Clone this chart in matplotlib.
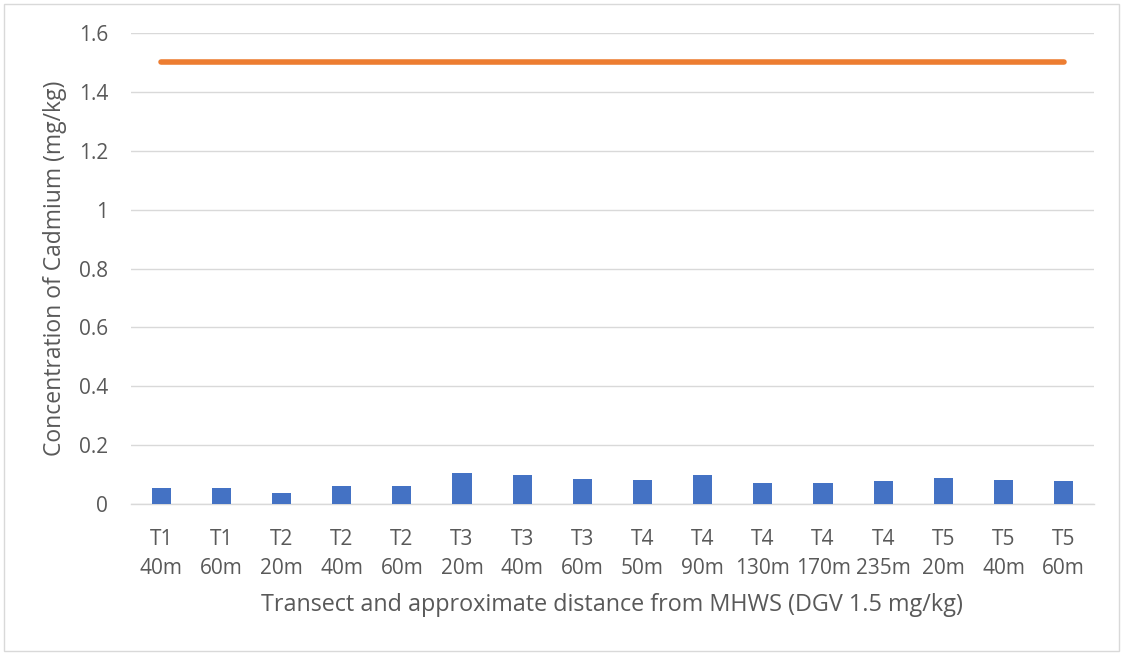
import matplotlib
matplotlib.use("Agg")
import matplotlib.pyplot as plt
from matplotlib.patches import Rectangle

categories = ["T1\n40m", "T1\n60m", "T2\n20m", "T2\n40m", "T2\n60m", "T3\n20m", "T3\n40m",
              "T3\n60m", "T4\n50m", "T4\n90m", "T4\n130m", "T4\n170m", "T4\n235m",
              "T5\n20m", "T5\n40m", "T5\n60m"]
cadmium = [0.055, 0.055, 0.038, 0.062, 0.060, 0.105, 0.097, 0.085,
           0.082, 0.100, 0.071, 0.071, 0.078, 0.090, 0.080, 0.078]
dgv = [1.5] * len(categories)
y_ticks = [0, 0.2, 0.4, 0.6, 0.8, 1, 1.2, 1.4, 1.6]
y_tick_labels = ["0", "0.2", "0.4", "0.6", "0.8", "1", "1.2", "1.4", "1.6"]

plt.rcParams["font.family"] = ["Open Sans", "DejaVu Sans"]
text_color = "#595959"
grid_color = "#d9d9d9"

fig = plt.figure(figsize=(11.23, 6.55), dpi=100)
fig.patches.append(Rectangle((0.004, 0.006), 0.992, 0.988, transform=fig.transFigure,
                             fill=False, edgecolor="#d9d9d9", linewidth=1))
ax = fig.add_axes([0.1167, 0.2305, 0.8573, 0.7191])

x = list(range(len(categories)))
ax.bar(x, cadmium, width=0.32, color="#4472C4", zorder=3)
ax.plot(x, dgv, color="#ED7D31", linewidth=4, solid_capstyle="round", zorder=4)

ax.set_xlim(-0.5, len(categories) - 0.5)
ax.set_ylim(0, 1.6)
ax.set_yticks(y_ticks)
ax.set_yticklabels(y_tick_labels)
ax.set_xticks(x)
ax.set_xticklabels(categories, linespacing=1.52)
ax.tick_params(axis="both", length=0, labelsize=15, colors=text_color)
ax.tick_params(axis="x", pad=18)
ax.tick_params(axis="y", pad=16.5)

ax.grid(axis="y", color=grid_color, linewidth=1, zorder=0)
for side in ["top", "right", "left"]:
    ax.spines[side].set_visible(False)
ax.spines["bottom"].set_color(grid_color)
ax.spines["bottom"].set_linewidth(1)

ax.set_ylabel("Concentration of Cadmium (mg/kg)", fontsize=16.5, color=text_color)
ax.yaxis.set_label_coords(-0.0787, 0.5)
ax.yaxis.label.set_verticalalignment("center")
ax.set_xlabel("Transect and approximate distance from MHWS (DGV 1.5 mg/kg)", fontsize=16.8,
              color=text_color)
ax.xaxis.set_label_coords(0.5, -0.2144)
ax.xaxis.label.set_verticalalignment("center")

fig.savefig("out.png", dpi=100)
